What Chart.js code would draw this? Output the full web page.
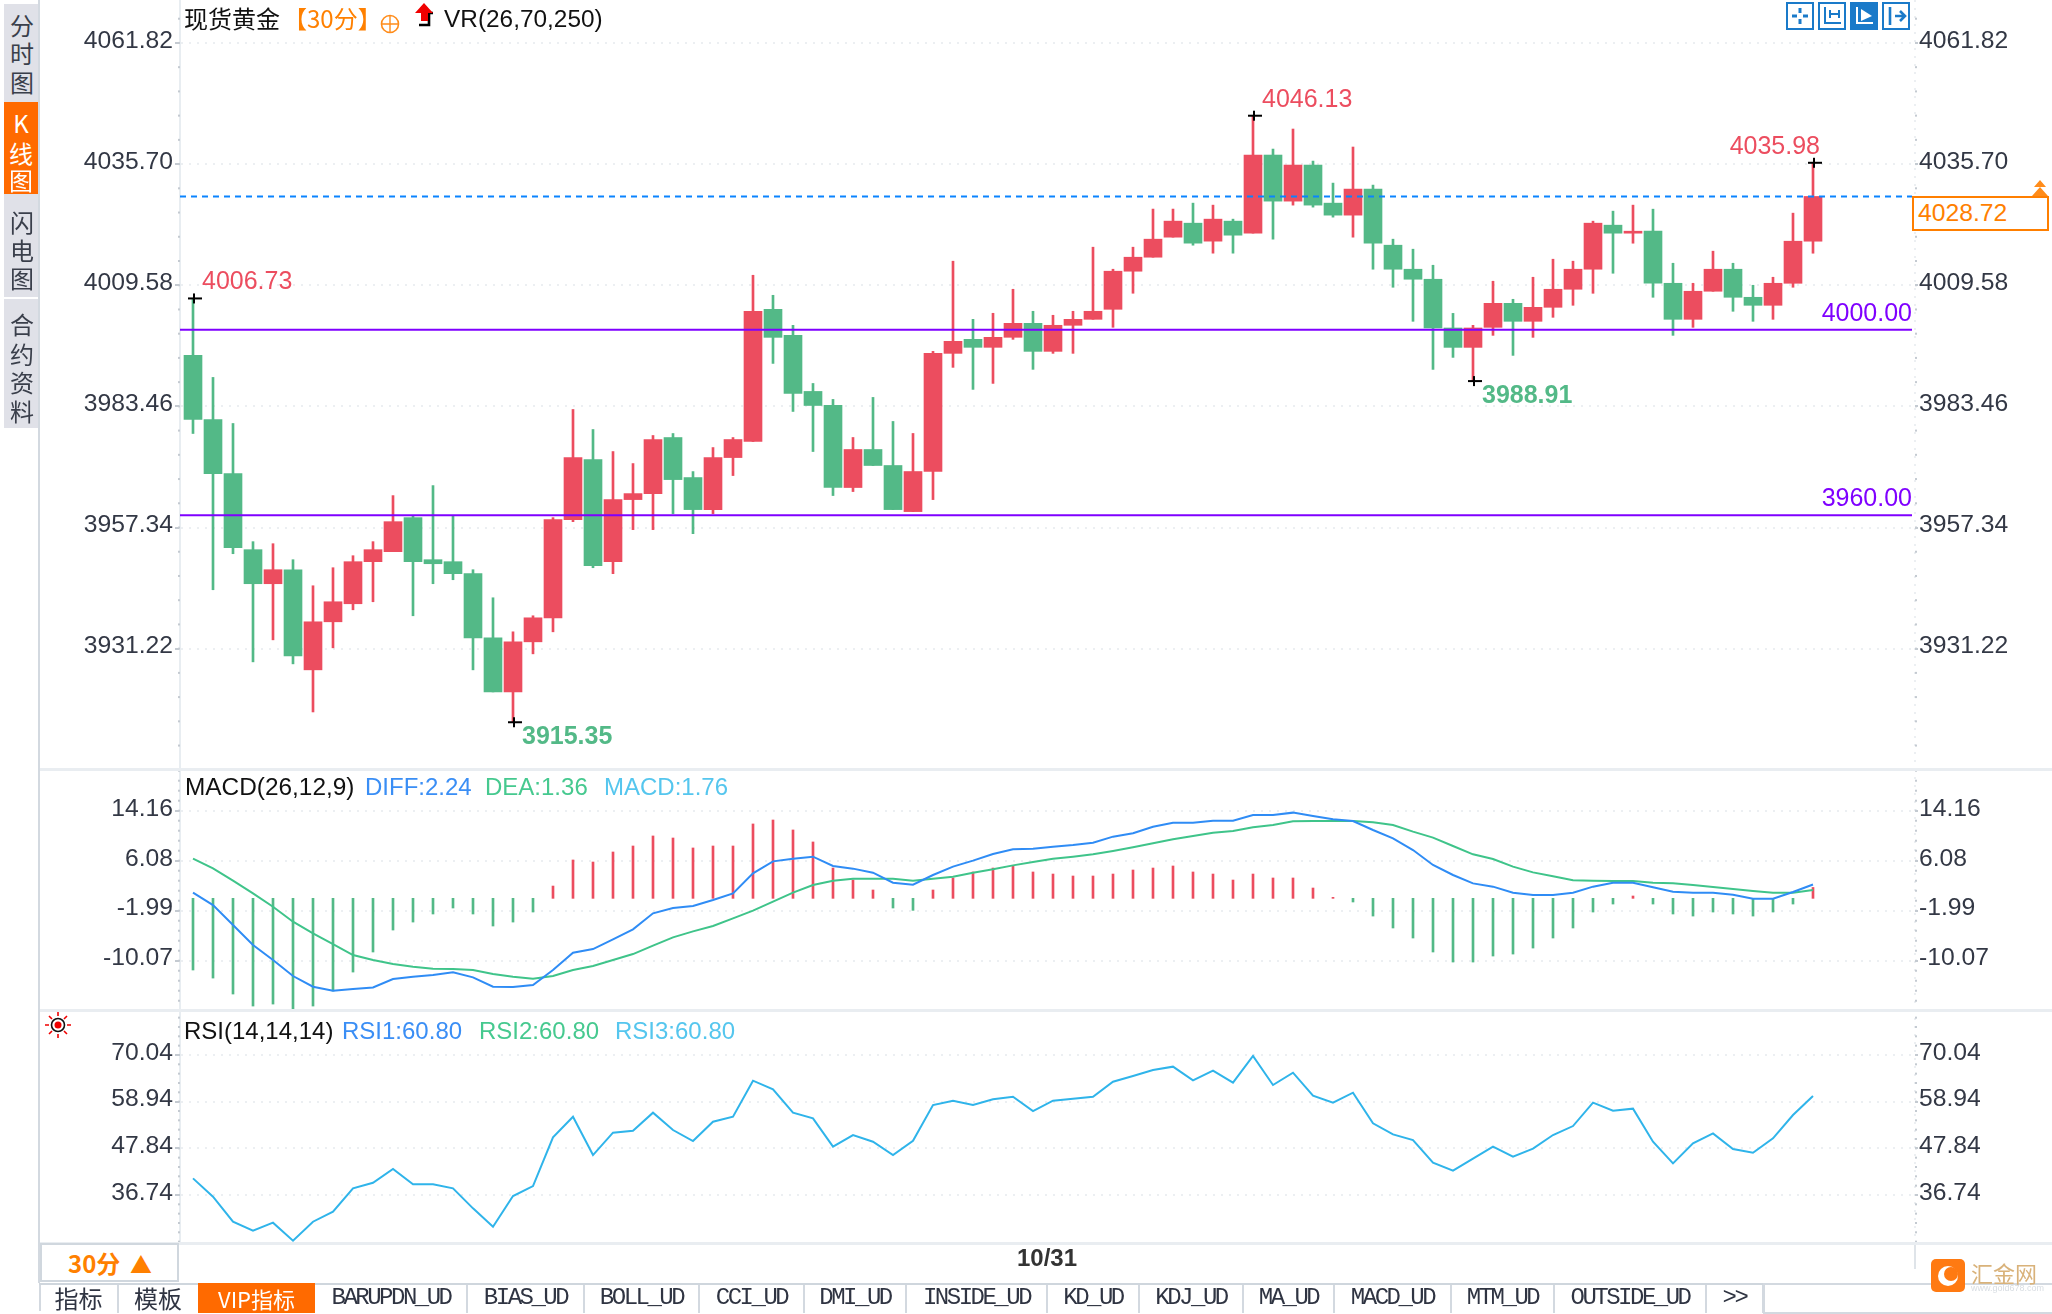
<!DOCTYPE html>
<html>
<head>
<meta charset="utf-8">
<title>现货黄金 30分</title>
<script src="https://cdn.jsdelivr.net/npm/chart.js@4/dist/chart.umd.min.js"></script>
<style>
html, body { margin: 0; padding: 0; background: #fff; overflow: hidden; }
#page { position: relative; width: 2052px; height: 1314px; overflow: hidden; font-family: "Liberation Sans", Arial, sans-serif; color: #2b2f3a; }
canvas { position: absolute; left: 0; display: block; }
.t { position: absolute; white-space: nowrap; font-size: 24px; line-height: 30px; transform: translateY(-50%); }
.cjk { font-family: "Noto Sans CJK SC", sans-serif; }
.box { position: absolute; }
.side { position: absolute; left: 4px; width: 36px; background: #e0e1e8; }
.side span { position: absolute; left: 0; width: 36px; text-align: center; font: 24px/28px "Noto Sans CJK SC", sans-serif; color: #3a3f4b; transform: translateY(-50%); }
.tab { position: absolute; top: 1283px; height: 30px; line-height: 30px; text-align: center; font-family: "Liberation Mono", monospace; font-size: 24px; letter-spacing: -2.5px; color: #2f3442; }
svg { position: absolute; }
</style>
</head>
<body>
<div id="page">
  <canvas id="mainChart" width="2052" height="769" style="top:0"></canvas>
  <canvas id="macdChart" width="2052" height="241" style="top:769px"></canvas>
  <canvas id="rsiChart" width="2052" height="273" style="top:1010px"></canvas>
</div>
<script>
// K line values
const opens = [3994.45,3980.63,3968.97,3952.56,3945.22,3948.24,3926.65,3937.01,3940.90,3949.97,3952.13,3959.47,3950.40,3949.97,3947.38,3933.56,3921.89,3932.69,3937.87,3959.04,3971.99,3949.97,3963.36,3964.65,3976.74,3968.11,3961.20,3972.42,3975.88,4004.38,3998.77,3986.68,3983.66,3965.96,3974.16,3970.71,3960.77,3969.41,3994.89,3997.91,3996.19,3998.35,4001.37,3995.32,4000.94,4002.23,4004.39,4012.60,4015.62,4019.94,4022.96,4019.08,4023.40,4020.81,4037.65,4027.71,4035.49,4027.28,4024.69,4030.31,4018.21,4013.03,4010.87,4000.36,3996.18,4000.50,4005.68,4001.80,4004.82,4008.71,4013.03,4022.53,4020.80,4021.23,4010.00,4002.23,4008.28,4013.03,4006.98,4005.25,4010.00,4019.07];
const highs = [4006.73,3989.70,3979.77,3954.29,3953.85,3950.40,3944.78,3948.67,3951.26,3954.29,3964.22,3959.90,3966.38,3959.90,3948.24,3942.19,3934.85,3938.31,3959.47,3982.79,3978.47,3973.72,3971.13,3977.18,3977.61,3969.40,3974.58,3976.74,4011.73,4007.41,4000.93,3988.40,3984.96,3976.75,3985.39,3980.21,3977.62,3995.32,4014.76,4002.23,4003.53,4008.71,4003.96,4003.10,4003.96,4017.78,4013.03,4017.78,4026.00,4026.00,4027.28,4026.85,4023.83,4046.13,4038.94,4043.26,4036.35,4031.60,4039.38,4031.17,4019.51,4017.35,4013.89,4003.51,4000.93,4010.44,4006.55,4011.30,4015.19,4014.76,4023.39,4025.55,4026.85,4025.98,4014.32,4010.00,4016.92,4014.32,4009.57,4011.30,4025.12,4035.98];
const lows = [3977.61,3943.92,3951.69,3928.37,3933.12,3927.94,3917.57,3931.40,3939.60,3941.33,3952.13,3938.31,3945.22,3946.08,3926.65,3921.89,3915.35,3930.10,3934.85,3958.60,3948.67,3947.38,3956.88,3956.88,3960.33,3956.01,3960.33,3968.54,3975.88,3992.72,3982.36,3973.72,3964.23,3965.09,3970.71,3961.20,3960.77,3963.36,3991.87,3987.12,3988.41,3997.91,3991.44,3994.89,3994.89,4002.23,4000.51,4007.85,4015.62,4019.94,4018.21,4016.49,4016.49,4020.81,4019.51,4026.85,4026.42,4024.26,4019.94,4013.03,4009.14,4001.80,3991.43,3994.02,3988.91,3998.77,3994.45,3998.34,4002.66,4005.25,4007.84,4012.16,4018.64,4006.98,3998.77,4000.50,4008.28,4003.96,4001.80,4002.23,4009.14,4016.48];
const closes = [3980.63,3968.97,3953.00,3945.22,3948.24,3929.67,3937.01,3941.33,3949.97,3952.56,3958.60,3949.97,3949.53,3947.38,3933.56,3921.89,3932.69,3937.87,3959.04,3972.42,3949.10,3963.36,3964.65,3976.31,3967.67,3961.20,3972.42,3976.31,4003.95,3998.34,3986.25,3983.65,3965.96,3974.16,3970.71,3961.20,3969.41,3994.89,3997.48,3996.19,3998.35,4001.37,3995.32,4000.94,4002.23,4003.96,4012.60,4015.62,4019.51,4023.40,4018.65,4023.83,4020.37,4037.65,4027.71,4035.49,4026.85,4024.69,4030.31,4018.65,4013.03,4010.87,4000.36,3996.18,4000.36,4005.68,4001.80,4004.82,4008.71,4013.03,4022.96,4020.80,4021.23,4010.00,4002.23,4008.28,4013.03,4006.98,4005.25,4010.00,4019.07,4028.72];

// MACD panel
const diffValues = [0.92,-1.08,-4.31,-7.54,-9.97,-12.55,-14.28,-14.92,-14.66,-14.39,-13.04,-12.66,-12.39,-11.96,-12.77,-14.28,-14.33,-14.01,-11.58,-8.78,-8.19,-6.63,-5.01,-2.42,-1.56,-1.24,-0.27,0.81,4.04,5.98,6.41,6.73,5.23,4.80,4.15,2.53,2.21,3.77,5.12,6.09,7.17,7.92,8.03,8.35,8.62,9.00,9.97,10.51,11.58,12.23,12.23,12.55,12.55,13.47,13.47,13.85,13.31,12.77,12.50,11.05,9.70,7.81,5.39,3.77,2.42,1.89,0.92,0.54,0.54,0.92,1.89,2.53,2.53,1.78,1.08,0.92,0.92,0.59,-0.05,-0.05,1.02,2.24];
const deaValues = [6.41,4.85,2.86,0.81,-1.35,-3.77,-5.66,-7.38,-9.16,-9.97,-10.61,-11.05,-11.37,-11.42,-11.58,-12.23,-12.66,-12.98,-12.55,-11.58,-10.94,-9.97,-9.00,-7.65,-6.30,-5.33,-4.47,-3.23,-1.99,-0.54,0.92,2.16,2.86,3.18,3.18,3.18,2.86,3.18,3.50,4.15,4.69,5.33,5.87,6.41,6.73,7.11,7.65,8.24,8.89,9.54,10.08,10.61,10.88,11.48,11.85,12.45,12.50,12.50,12.50,12.28,11.85,10.78,9.81,8.46,7.11,6.36,5.12,4.20,3.56,2.91,2.86,2.80,2.80,2.53,2.42,2.16,1.83,1.51,1.19,0.92,0.92,1.36];
const macdBars = [-11.58,-12.88,-15.46,-17.40,-17.08,-18.05,-17.40,-14.98,-11.91,-8.67,-5.12,-3.83,-2.53,-1.56,-2.53,-4.47,-3.83,-2.21,1.99,6.20,5.87,7.49,8.46,10.08,9.75,8.14,8.46,8.46,12.02,12.66,11.05,9.11,4.90,2.96,1.35,-1.56,-1.94,1.35,3.29,4.26,4.90,5.23,4.26,3.93,3.61,3.61,3.93,4.58,4.90,5.23,4.26,3.93,2.96,3.93,3.29,3.29,1.67,0.16,-0.59,-2.86,-4.79,-6.41,-8.67,-10.29,-10.29,-9.32,-9.00,-8.03,-6.41,-4.79,-2.21,-0.92,0.38,-0.92,-2.53,-2.86,-2.21,-2.53,-2.86,-2.21,-0.92,1.76];

// RSI panel
const rsiValues = [40.69,36.33,30.38,28.24,30.15,25.86,30.38,32.76,38.31,39.66,42.91,39.27,39.27,38.31,33.56,29.19,36.49,38.87,50.45,55.36,46.24,51.56,52.03,56.32,52.19,49.58,54.17,55.36,63.93,61.87,56.32,54.97,48.23,51.00,49.42,46.24,49.65,58.14,59.17,58.14,59.49,60.12,56.71,59.17,59.65,60.12,63.69,65.04,66.47,67.26,64.01,66.31,63.45,69.80,62.90,65.83,60.36,58.70,61.07,53.78,51.16,49.81,44.42,42.52,45.37,48.23,45.85,47.75,51.00,53.14,58.70,56.79,57.27,49.42,44.26,49.02,51.40,47.67,46.80,50.21,55.76,60.28];

// axis ticks
const priceTicks = [4061.82,4035.70,4009.58,3983.46,3957.34,3931.22];
const macdTicks = [14.16,6.08,-1.99,-10.07];
const rsiTicks = [70.04,58.94,47.84,36.74];
const dateTickIndex = [41];
const dateTickLabels = ['10/31'];

// reference lines and marked extremes
const priceLevels = [4000, 3960];
const lastPrice = 4028.72;
const markIndex = [0, 16, 53, 64, 81];
const markValue = [4006.73, 3915.35, 4046.13, 3988.91, 4035.98];

const RED = '#ec4d5f';
const GREEN = '#53b987';
const PURPLE = '#7f00ff';
const AXIS_TEXT = '#333845';
const FONT = '"Liberation Sans", Arial, sans-serif';

// x axis is in candle units, the range puts candle 0 at px 193 with 20px per candle
const X_MIN = -0.65;
const X_MAX = 86.1;
const LINE_END = 85.95;
const allIndex = opens.map((_, i) => i);
const candleColors = opens.map((o, i) => closes[i] >= o ? RED : GREEN);
const levelLine = v => [{ x: X_MIN, y: v }, { x: LINE_END, y: v }];

// the plot has to fill its canvas, so drop the room Chart.js keeps for label overhang
function clearPadding(s) {
    s.paddingTop = 0;
    s.paddingBottom = 0;
    s.paddingLeft = 0;
    s.paddingRight = 0;
}

// small dots on the two y axes, five per major step
const minorTicks = {
    id: 'minorTicks',
    afterDraw(chart) {
        const ctx = chart.ctx;
        const y = chart.scales.y;
        const ticks = y.ticks.map(t => t.value);
        const step = (ticks[0] - ticks[1]) / 5;
        ctx.save();
        ctx.fillStyle = '#c4cad1';
        for (let v = ticks[0] + step * 20; v > y.min; v -= step) {
            if (v > y.max) continue;
            const py = y.getPixelForValue(v);
            ctx.fillRect(178, py - 1, 2, 2);
            ctx.fillRect(1915, py - 1, 2, 2);
        }
        ctx.restore();
    }
};

// high / low crosses with their prices, and the two level prices
const priceMarks = {
    id: 'priceMarks',
    afterDatasetsDraw(chart) {
        const ctx = chart.ctx;
        const xs = chart.scales.x;
        const ys = chart.scales.y;
        ctx.save();
        ctx.textBaseline = 'middle';
        markIndex.forEach((idx, k) => {
            const px = xs.getPixelForValue(idx);
            const py = ys.getPixelForValue(markValue[k]);
            const isLow = markValue[k] === lows[idx];
            ctx.fillStyle = '#000';
            ctx.fillRect(px - 5, py - 1, 14, 2);
            ctx.fillRect(px, py - 5, 2, 10);
            ctx.fillStyle = isLow ? GREEN : RED;
            ctx.font = (isLow ? 'bold ' : '') + '25px ' + FONT;
            if (idx === opens.length - 1) {
                ctx.textAlign = 'right';
                ctx.fillText(markValue[k].toFixed(2), px + 7, py - 16);
            } else {
                ctx.textAlign = 'left';
                ctx.fillText(markValue[k].toFixed(2), px + 9, isLow ? py + 15 : py - 16);
            }
        });
        ctx.font = '25px ' + FONT;
        ctx.fillStyle = PURPLE;
        ctx.textAlign = 'right';
        priceLevels.forEach(v => {
            ctx.fillText(v.toFixed(2), 1912, ys.getPixelForValue(v) - 16);
        });
        ctx.restore();
    }
};

function yAxis(position, min, max, tickList, withGrid) {
    return {
        type: 'linear',
        position: position,
        min: min,
        max: max,
        afterFit: s => {
            s.width = position === 'left' ? 180 : 137;
            clearPadding(s);
        },
        afterBuildTicks: s => { s.ticks = tickList.map(v => ({ value: v })); },
        border: { display: position === 'left', color: '#e8edf1', width: 2, dash: [2, 6] },
        grid: {
            drawOnChartArea: withGrid,
            color: '#eceff2',
            lineWidth: 2,
            tickLength: position === 'left' ? 5 : 3,
            tickColor: '#c4cad1',
            tickBorderDash: []
        },
        ticks: {
            autoSkip: false,
            color: AXIS_TEXT,
            padding: position === 'left' ? 2 : 1,
            labelOffset: -2,
            font: { family: FONT, size: 24.7 },
            callback: v => v.toFixed(2)
        }
    };
}

function makeChart(id, datasets, min, max, tickList, xRowHeight, plugins) {
    return new Chart(document.getElementById(id), {
        type: 'bar',
        data: { datasets: datasets },
        options: {
            responsive: false,
            animation: false,
            devicePixelRatio: 1,
            layout: { padding: 0 },
            plugins: { legend: { display: false }, tooltip: { enabled: false } },
            scales: {
                x: {
                    type: 'linear',
                    offset: false,
                    min: X_MIN,
                    max: X_MAX,
                    afterFit: s => {
                        s.height = xRowHeight;
                        clearPadding(s);
                    },
                    afterBuildTicks: s => { s.ticks = dateTickIndex.map(v => ({ value: v })); },
                    border: { display: false, dash: [2, 6] },
                    grid: {
                        color: '#eceff2',
                        lineWidth: 2,
                        drawTicks: xRowHeight > 0,
                        tickLength: 26,
                        tickColor: '#dfe4e9',
                        tickBorderDash: []
                    },
                    ticks: {
                        display: xRowHeight > 0,
                        autoSkip: false,
                        maxRotation: 0,
                        align: 'start',
                        labelOffset: 4,
                        padding: -24,
                        color: '#333',
                        font: { family: FONT, size: 24, weight: 'bold' },
                        callback: v => dateTickLabels[dateTickIndex.indexOf(v)]
                    }
                },
                y: yAxis('left', min, max, tickList, true),
                yRight: yAxis('right', min, max, tickList, false)
            }
        },
        plugins: [minorTicks].concat(plugins)
    });
}

function initMainChart() {
    const datasets = [
        {
            type: 'bar', order: 4, grouped: false, barThickness: 2,
            data: allIndex.map(i => ({ x: i, y: [lows[i], highs[i]] })),
            backgroundColor: candleColors
        },
        {
            type: 'bar', order: 3, grouped: false, barThickness: 18,
            data: allIndex.map(i => ({ x: i, y: [opens[i], closes[i]] })),
            backgroundColor: candleColors
        }
    ];
    priceLevels.forEach(v => datasets.push({
        type: 'line', order: 1, data: levelLine(v),
        borderColor: PURPLE, borderWidth: 2, pointRadius: 0
    }));
    datasets.push({
        type: 'line', order: 1, data: levelLine(lastPrice),
        borderColor: '#0a84ff', borderWidth: 2, borderDash: [6, 5], pointRadius: 0
    });
    makeChart('mainChart', datasets, 3905.27, 4071.08, priceTicks, 0, [priceMarks]);
}

function initMacdChart() {
    const datasets = [
        {
            type: 'bar', order: 3, grouped: false, barThickness: 2,
            data: allIndex.map(i => ({ x: i, y: macdBars[i] })),
            backgroundColor: macdBars.map(v => v >= 0 ? RED : GREEN)
        },
        {
            type: 'line', order: 2, data: allIndex.map(i => ({ x: i, y: deaValues[i] })),
            borderColor: '#3fc48a', borderWidth: 2, pointRadius: 0
        },
        {
            type: 'line', order: 1, data: allIndex.map(i => ({ x: i, y: diffValues[i] })),
            borderColor: '#2f8cf5', borderWidth: 2, pointRadius: 0
        }
    ];
    makeChart('macdChart', datasets, -18.04, 20.90, macdTicks, 0, []);
}

function initRsiChart() {
    const datasets = [{
        type: 'line', data: allIndex.map(i => ({ x: i, y: rsiValues[i] })),
        borderColor: '#2fb4ea', borderWidth: 2, pointRadius: 0
    }];
    makeChart('rsiChart', datasets, 25.32, 80.74, rsiTicks, 40, []);
}

// everything around the plots: side tabs, titles, bottom tabs
const page = document.getElementById('page');

function addText(x, y, text, color, cls, extra) {
    const el = document.createElement('div');
    el.className = 't' + (cls ? ' ' + cls : '');
    el.style.left = x + 'px';
    el.style.top = y + 'px';
    if (color) el.style.color = color;
    el.textContent = text;
    if (extra) Object.assign(el.style, extra);
    page.appendChild(el);
    return el;
}

function addBox(x, y, w, h, bg, extra) {
    const el = document.createElement('div');
    el.className = 'box';
    Object.assign(el.style, { left: x + 'px', top: y + 'px', width: w + 'px', height: h + 'px', background: bg });
    if (extra) Object.assign(el.style, extra);
    page.appendChild(el);
    return el;
}

function addSvg(x, y, w, h, inner) {
    const holder = document.createElement('div');
    holder.innerHTML = '<svg xmlns="http://www.w3.org/2000/svg" width="' + w + '" height="' + h + '" viewBox="0 0 ' + w + ' ' + h + '" style="left:' + x + 'px;top:' + y + 'px">' + inner + '</svg>';
    page.appendChild(holder.firstChild);
}

function drawSideTabs() {
    const tabs = [
        { top: 4, h: 98, chars: ['分', '时', '图'], ys: [25, 53, 82] },
        { top: 102, h: 92, chars: ['K', '线', '图'], ys: [123, 153, 180], active: true },
        { top: 194, h: 103, chars: ['闪', '电', '图'], ys: [222, 250, 278] },
        { top: 299, h: 129, chars: ['合', '约', '资', '料'], ys: [324, 354, 382, 411] }
    ];
    tabs.forEach(tab => {
        const el = document.createElement('div');
        el.className = 'side';
        el.style.top = tab.top + 'px';
        el.style.height = tab.h + 'px';
        if (tab.active) { el.style.background = '#ff6a00'; el.style.width = '34px'; }
        tab.chars.forEach((c, i) => {
            const s = document.createElement('span');
            s.textContent = c;
            s.style.top = (tab.ys[i] - tab.top) + 'px';
            if (tab.active) { s.style.color = '#fff'; s.style.width = '34px'; }
            el.appendChild(s);
        });
        page.appendChild(el);
    });
}

function drawFrame() {
    addBox(38, 0, 2, 1283, '#d3d9e0');
    addBox(40, 768, 2012, 3, '#e9edf1');
    addBox(40, 1009, 2012, 3, '#e9edf1');
    addBox(40, 1242, 2012, 3, '#e9edf1');
    addBox(40, 1243, 139, 39, '#fff', { border: '2px solid #d0d7de', boxSizing: 'border-box' });
    addBox(39, 1283, 1724, 2, '#cfd6dd');
    addBox(1763, 1283, 289, 2, '#d3d9e0');
    addBox(1763, 1312, 289, 2, '#d3d9e0');
    addBox(1763, 1283, 2, 31, '#d3d9e0');
}

function drawHeaders() {
    addText(184, 18, '现货黄金', '#111', 'cjk');
    addText(283, 18, '【30分】', '#ff8000', 'cjk');
    addSvg(379, 13, 22, 22, '<circle cx="11" cy="11" r="8.5" fill="none" stroke="#ff8c1a" stroke-width="1.6"/><path d="M2.5 11H19.5M11 2.5V19.5" stroke="#ff8c1a" stroke-width="1.4"/>');
    addSvg(412, 2, 26, 26, '<path d="M7 23H17V11H21" fill="none" stroke="#000" stroke-width="2.6"/><path d="M12 1L21 11H16V19H9V11H3Z" fill="#f00000"/>');
    addText(444, 19, 'VR(26,70,250)', '#111', '', { fontSize: '24.4px' });

    addText(185, 787, 'MACD(26,12,9)', '#111', '', { fontSize: '24.4px' });
    addText(365, 787, 'DIFF:2.24', '#3a8ef5');
    addText(485, 787, 'DEA:1.36', '#46c98f');
    addText(604, 787, 'MACD:1.76', '#55c6ee');

    addText(184, 1031, 'RSI(14,14,14)', '#111');
    addText(342, 1031, 'RSI1:60.80', '#3a8ef5');
    addText(479, 1031, 'RSI2:60.80', '#46c98f');
    addText(615, 1031, 'RSI3:60.80', '#55c6ee');

    addSvg(44, 1011, 28, 28, '<circle cx="14" cy="14" r="6.5" fill="#fff" stroke="#111" stroke-width="1.6"/><circle cx="14" cy="14" r="3.5" fill="#f00000"/><path d="M14 1V5M14 23V27M1 14H5M23 14H27M5 5L8 8M20 20L23 23M23 5L20 8M8 20L5 23" stroke="#f00000" stroke-width="1.6"/>');
}

function drawToolbar() {
    const blue = '#1a7ac9';
    const icons = [
        '<path d="M14 6V11M14 17V22M6 14H11M17 14H22" stroke="' + blue + '" stroke-width="3"/>',
        '<path d="M7 5V21H23M12 8V16M12 12H21M21 8V16" fill="none" stroke="' + blue + '" stroke-width="2"/>',
        '<path d="M7 5V21H23" fill="none" stroke="#fff" stroke-width="2"/><path d="M11 7L22 14L11 19Z" fill="#fff"/>',
        '<path d="M8 5V23M13 14H23M18 9L23 14L18 19" fill="none" stroke="' + blue + '" stroke-width="2.6"/>'
    ];
    [1786, 1818, 1850, 1882].forEach((x, i) => {
        const filled = i === 2;
        addSvg(x, 2, 28, 28, '<rect x="1" y="1" width="26" height="26" fill="' + (filled ? blue : '#fff') + '" stroke="' + blue + '" stroke-width="2"/>' + icons[i]);
    });
}

function drawLastPrice() {
    addBox(1912, 196, 137, 35, '#fff', { border: '2px solid #ff7f00', boxSizing: 'border-box' });
    addText(1918, 213, lastPrice.toFixed(2), '#ff8000', '', { fontSize: '24.7px' });
    addSvg(2032, 180, 16, 17, '<path d="M8 0L14 7H2ZM8 7L16 16H0Z" fill="#ff8c1a"/>');
}

function drawBottomTabs() {
    addText(68, 1263, '30分', '#ff8000', 'cjk', { fontWeight: 'bold' });
    addText(130, 1263, '▲', '#ff8000', 'cjk', { fontSize: '22px' });

    const names = ['指标', '模板', 'VIP指标', 'BARUPDN_UD', 'BIAS_UD', 'BOLL_UD', 'CCI_UD', 'DMI_UD', 'INSIDE_UD', 'KD_UD', 'KDJ_UD', 'MA_UD', 'MACD_UD', 'MTM_UD', 'OUTSIDE_UD', '>>'];
    const edges = [39, 118, 198, 315, 467, 584, 699, 804, 906, 1047, 1139, 1243, 1334, 1451, 1554, 1706, 1763];
    names.forEach((name, i) => {
        const left = edges[i];
        const w = edges[i + 1] - left;
        const el = document.createElement('div');
        el.className = 'tab';
        el.style.left = left + 'px';
        el.style.width = w + 'px';
        el.textContent = name;
        if (i < 3) { el.style.fontFamily = '"Noto Sans CJK SC", sans-serif'; el.style.letterSpacing = '0'; }
        if (i === 2) {
            el.style.background = '#ff6a00';
            el.style.color = '#fff';
            el.style.fontSize = '22px';
        }
        if (i !== 2 && i !== 1) addBox(left + w - 1, 1285, 2, 28, '#d3d9e0');
        page.appendChild(el);
    });
    addBox(39, 1285, 2, 26, '#d3d9e0');
    addBox(117, 1285, 2, 28, '#d3d9e0');
}

function drawLogo() {
    addBox(1931, 1259, 34, 33, '#ff7a12', { borderRadius: '5px' });
    addSvg(1935, 1263, 26, 26, '<circle cx="13" cy="13" r="10" fill="#fff"/><circle cx="16" cy="11" r="7" fill="#ff7a12"/>');
    addText(1971, 1272, '汇金网', '#d9b27a', 'cjk', { fontSize: '22px' });
    addText(1971, 1288, 'www.gold678.com', '#d8dde2', '', { fontSize: '9px', lineHeight: '10px' });
}

document.addEventListener('DOMContentLoaded', function() {
    initMainChart();
    initMacdChart();
    initRsiChart();
    drawSideTabs();
    drawFrame();
    drawHeaders();
    drawToolbar();
    drawLastPrice();
    drawBottomTabs();
    drawLogo();
});
</script>
</body>
</html>
